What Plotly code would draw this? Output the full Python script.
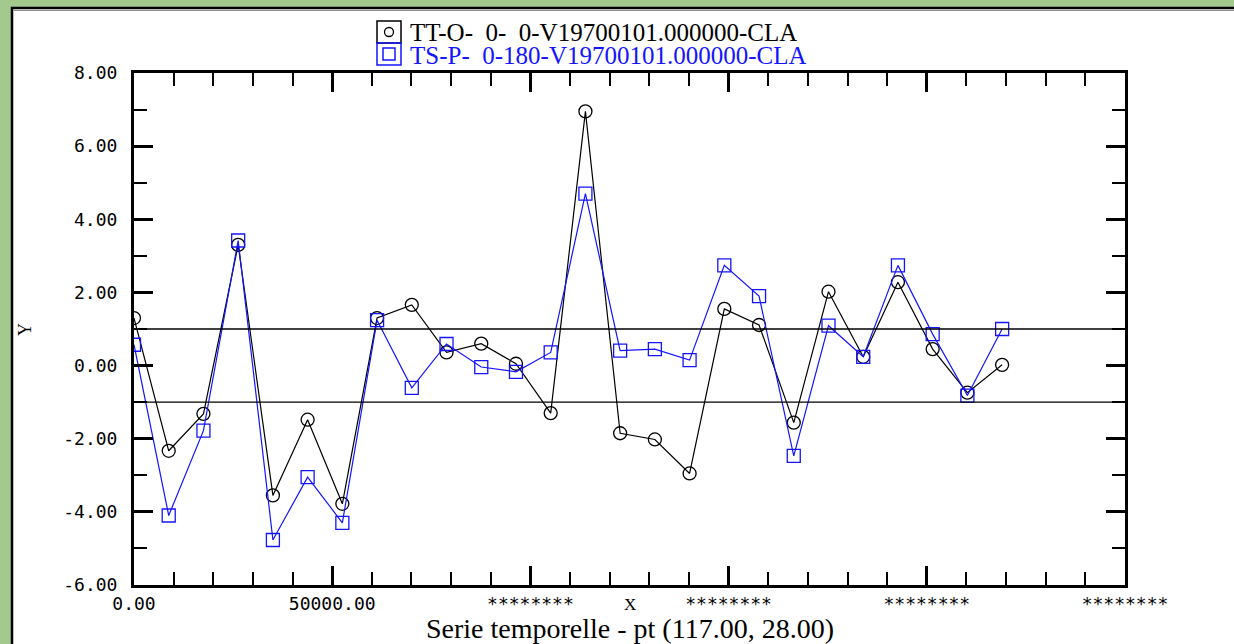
import plotly.graph_objects as go

# ---- data ----
x_values = [0, 8760, 17520, 26280, 35040, 43800, 52560, 61320, 70080, 78840,
            87600, 96360, 105120, 113880, 122640, 131400, 140160, 148920,
            157680, 166440, 175200, 183960, 192720, 201480, 210240, 219000]
tt_values = [1.30, -2.33, -1.32, 3.30, -3.55, -1.48, -3.78, 1.30, 1.66, 0.36,
             0.60, 0.05, -1.30, 6.95, -1.85, -2.02, -2.95, 1.55, 1.11, -1.56,
             2.02, 0.24, 2.28, 0.45, -0.74, 0.02]
ts_values = [0.57, -4.10, -1.78, 3.42, -4.77, -3.05, -4.30, 1.24, -0.61, 0.59,
             -0.04, -0.17, 0.36, 4.70, 0.41, 0.45, 0.15, 2.74, 1.90, -2.47,
             1.09, 0.24, 2.74, 0.86, -0.82, 1.00]
series_names = ["TT-O-  0-  0-V19700101.000000-CLA",
                "TS-P-  0-180-V19700101.000000-CLA"]
ref_levels = [1.0, -1.0]
x_tick_vals = [0, 50000, 100000, 150000, 200000, 250000]
x_tick_labels = ["0.00", "50000.00", "********", "********", "********", "********"]
y_tick_vals = [-6, -4, -2, 0, 2, 4, 6, 8]
y_tick_labels = ["-6.00", "-4.00", "-2.00", "0.00", "2.00", "4.00", "6.00", "8.00"]
x_title = "Serie temporelle - pt (117.00, 28.00)"

W, H = 1234, 644
L, R, T, B = 134, 109, 73, 59
PW, PH = W - L - R, H - T - B


def px(xp):
    return (xp - L) / PW


def py(yp):
    return (H - B - yp) / PH


BLUE = "#1414ff"
GREEN = "#a3c98f"
SERIF = "Liberation Serif, Times New Roman, serif"
MONO = "DejaVu Sans Mono, monospace"

fig = go.Figure()
fig.add_trace(go.Scatter(
    x=x_values, y=tt_values, mode="lines+markers", name=series_names[0],
    line=dict(color="black", width=1.2),
    marker=dict(symbol="circle-open", size=13, color="black", line=dict(width=1.3)),
    showlegend=False))
fig.add_trace(go.Scatter(
    x=x_values, y=ts_values, mode="lines+markers", name=series_names[1],
    line=dict(color=BLUE, width=1.2),
    marker=dict(symbol="square-open", size=13, color=BLUE, line=dict(width=1.3)),
    showlegend=False))

shapes = []
# white panel with black frame on green background
shapes.append(dict(type="rect", xref="paper", yref="paper", layer="below",
                   x0=px(12), x1=px(W + 20), y0=py(H + 20), y1=py(8),
                   fillcolor="white", line=dict(color="black", width=2.5)))
shapes.append(dict(type="line", xref="paper", yref="paper", layer="below",
                   x0=px(13.5), x1=px(W + 20), y0=py(10.5), y1=py(10.5),
                   line=dict(color="#888888", width=1)))
# reference lines
for lv in ref_levels:
    shapes.append(dict(type="line", xref="paper", yref="y", x0=0, x1=1, y0=lv, y1=lv,
                       line=dict(color="black", width=1.4), layer="above"))
# legend boxes
shapes.append(dict(type="rect", xref="paper", yref="paper",
                   x0=px(377), x1=px(401), y0=py(43), y1=py(21),
                   line=dict(color="black", width=1.5)))
shapes.append(dict(type="rect", xref="paper", yref="paper",
                   x0=px(377), x1=px(401), y0=py(65), y1=py(43),
                   line=dict(color=BLUE, width=1.5)))
shapes.append(dict(type="circle", xref="paper", yref="paper",
                   x0=px(384.5), x1=px(393.5), y0=py(36.5), y1=py(27.5),
                   line=dict(color="black", width=1.3)))
shapes.append(dict(type="rect", xref="paper", yref="paper",
                   x0=px(383), x1=px(395), y0=py(60), y1=py(48),
                   line=dict(color=BLUE, width=1.5)))

annotations = [
    dict(text=series_names[0], xref="paper", yref="paper", x=px(408), y=py(32),
         xanchor="left", yanchor="middle", showarrow=False, height=21,
         font=dict(family=SERIF, size=25, color="black")),
    dict(text=series_names[1], xref="paper", yref="paper", x=px(408), y=py(55),
         xanchor="left", yanchor="middle", showarrow=False, height=21,
         font=dict(family=SERIF, size=25, color=BLUE)),
    dict(text=x_title, xref="paper", yref="paper", x=px(630), y=py(628),
         xanchor="center", yanchor="middle", showarrow=False,
         font=dict(family=SERIF, size=28, color="black")),
    dict(text="X", xref="paper", yref="paper", x=px(630), y=py(604),
         xanchor="center", yanchor="middle", showarrow=False,
         font=dict(family=SERIF, size=17, color="black")),
    dict(text="Y", xref="paper", yref="paper", x=px(25), y=py(330),
         xanchor="center", yanchor="middle", showarrow=False, textangle=-90,
         font=dict(family=SERIF, size=18, color="black")),
]

axis_common = dict(
    showline=True, linecolor="black", linewidth=3, mirror="ticks",
    ticks="inside", ticklen=19, tickwidth=3, tickcolor="black",
    showgrid=False, zeroline=False,
    tickfont=dict(family=MONO, size=18, color="black"),
)

fig.update_layout(
    width=W, height=H,
    margin=dict(l=L, r=R, t=T, b=B, pad=0),
    paper_bgcolor=GREEN, plot_bgcolor="white",
    shapes=shapes, annotations=annotations,
    xaxis=dict(range=[0, 250000], tickmode="array", tickvals=x_tick_vals,
               ticktext=x_tick_labels, ticklabelstandoff=0,
               minor=dict(dtick=10000, tick0=0, ticks="inside", ticklen=13,
                          tickwidth=2, tickcolor="black"),
               **axis_common),
    yaxis=dict(range=[-6, 8], tickmode="array", tickvals=y_tick_vals,
               ticktext=y_tick_labels, ticklabelstandoff=10,
               minor=dict(dtick=1, tick0=0, ticks="inside", ticklen=13,
                          tickwidth=2, tickcolor="black"),
               **axis_common),
    showlegend=False,
)

fig.write_html("out.html")
